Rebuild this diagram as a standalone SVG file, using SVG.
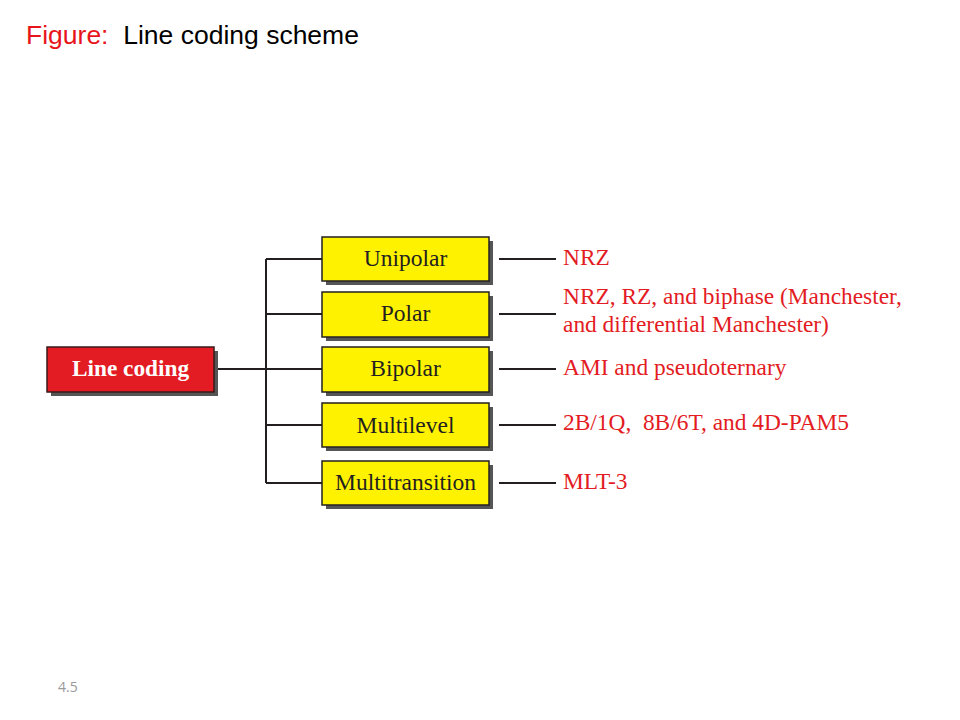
<svg xmlns="http://www.w3.org/2000/svg" width="960" height="720" viewBox="0 0 960 720">
<style>
.box{fill:#fff200;stroke:#231f20;stroke-width:1.5}
.shadow{fill:#555}
.bt{font-family:"Liberation Serif",serif;font-size:23.5px;fill:#231f20;text-anchor:middle}
.rt{font-family:"Liberation Serif",serif;font-size:23.4px;fill:#e31b23}
.ln{stroke:#231f20;stroke-width:2;fill:none}
</style>
<rect width="960" height="720" fill="#fff"/>
<text x="26" y="44" font-family="Liberation Sans,Arial,sans-serif" font-size="26.5" xml:space="preserve"><tspan fill="#e8141c">Figure:</tspan><tspan fill="#000">  Line coding scheme</tspan></text>
<g id="connectors">
<path class="ln" d="M214 369H266M266 259V483M266 259H322M266 314H322M266 369H322M266 425H322M266 483H322"/>
<path class="ln" stroke-width="1.5" d="M499 259H556M499 314H556M499 369H556M499 425H556M499 483H556"/>
</g>
<g id="line-coding">
<rect class="shadow" x="51" y="351" width="167" height="45"/>
<rect x="47" y="347" width="167" height="45" fill="#e31b23" stroke="#3a1a1a" stroke-width="1.5"/>
<text x="130.5" y="376" font-family="Liberation Serif,serif" font-size="23.3" font-weight="bold" fill="#fff" text-anchor="middle">Line coding</text>
</g>
<g id="unipolar">
<rect class="shadow" x="326" y="241" width="167" height="44"/>
<rect class="box" x="322" y="237" width="167" height="44"/>
<text class="bt" x="405.5" y="266">Unipolar</text>
</g>
<g id="polar">
<rect class="shadow" x="326" y="296" width="167" height="45"/>
<rect class="box" x="322" y="292" width="167" height="45"/>
<text class="bt" x="405.5" y="321">Polar</text>
</g>
<g id="bipolar">
<rect class="shadow" x="326" y="351" width="167" height="45"/>
<rect class="box" x="322" y="347" width="167" height="45"/>
<text class="bt" x="405.5" y="376">Bipolar</text>
</g>
<g id="multilevel">
<rect class="shadow" x="326" y="407" width="167" height="44"/>
<rect class="box" x="322" y="403" width="167" height="44"/>
<text class="bt" x="405.5" y="433">Multilevel</text>
</g>
<g id="multitransition">
<rect class="shadow" x="326" y="465" width="167" height="44"/>
<rect class="box" x="322" y="461" width="167" height="44"/>
<text class="bt" x="405.5" y="490">Multitransition</text>
</g>
<g id="labels">
<text class="rt" x="563" y="265">NRZ</text>
<text class="rt" x="563" y="304">NRZ, RZ, and biphase (Manchester,</text>
<text class="rt" x="563" y="332">and differential Manchester)</text>
<text class="rt" x="563" y="375">AMI and pseudoternary</text>
<text class="rt" x="563" y="430" xml:space="preserve">2B/1Q,  8B/6T, and 4D-PAM5</text>
<text class="rt" x="563" y="489">MLT-3</text>
</g>
<text x="58" y="692" font-family="Open Sans,sans-serif" font-size="14" fill="#999">4.5</text>
</svg>
